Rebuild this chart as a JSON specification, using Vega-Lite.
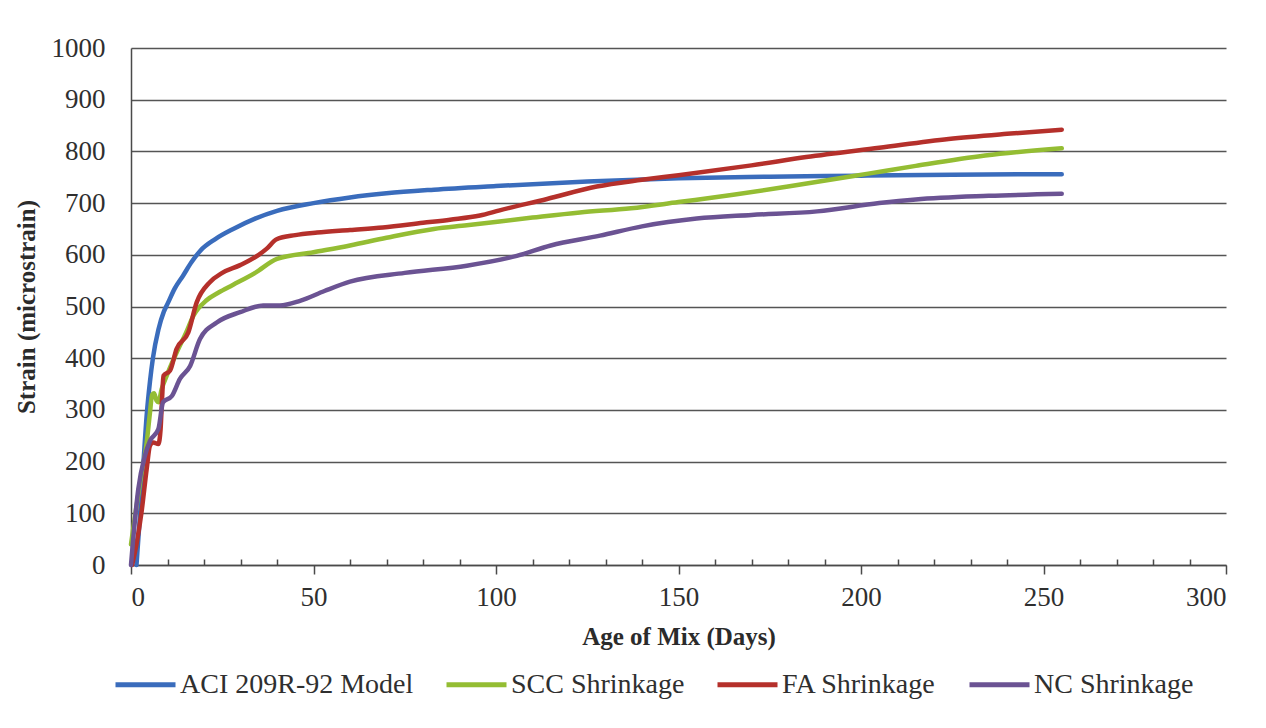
{
  "$schema": "https://vega.github.io/schema/vega-lite/v6.json",
  "autosize": {"type": "none"},
  "padding": {"left": 131, "top": 48, "right": 40, "bottom": 163},
  "width": 1095,
  "height": 517,
  "background": "white",
  "config": {
    "view": {"stroke": null},
    "font": "Liberation Serif, Times New Roman, DejaVu Serif, serif"
  },
  "data": {
    "values": [
      {"series": "ACI 209R-92 Model", "day": 1.5, "strain": 0},
      {"series": "ACI 209R-92 Model", "day": 2, "strain": 50},
      {"series": "ACI 209R-92 Model", "day": 2.5, "strain": 100},
      {"series": "ACI 209R-92 Model", "day": 3, "strain": 155},
      {"series": "ACI 209R-92 Model", "day": 3.4, "strain": 197},
      {"series": "ACI 209R-92 Model", "day": 4.3, "strain": 290},
      {"series": "ACI 209R-92 Model", "day": 5.2, "strain": 355},
      {"series": "ACI 209R-92 Model", "day": 6, "strain": 400},
      {"series": "ACI 209R-92 Model", "day": 7.5, "strain": 455},
      {"series": "ACI 209R-92 Model", "day": 9, "strain": 490},
      {"series": "ACI 209R-92 Model", "day": 10, "strain": 505},
      {"series": "ACI 209R-92 Model", "day": 12, "strain": 535},
      {"series": "ACI 209R-92 Model", "day": 14.3, "strain": 560},
      {"series": "ACI 209R-92 Model", "day": 16.5, "strain": 585},
      {"series": "ACI 209R-92 Model", "day": 19, "strain": 608},
      {"series": "ACI 209R-92 Model", "day": 23, "strain": 630},
      {"series": "ACI 209R-92 Model", "day": 28, "strain": 650},
      {"series": "ACI 209R-92 Model", "day": 34, "strain": 670},
      {"series": "ACI 209R-92 Model", "day": 40, "strain": 685},
      {"series": "ACI 209R-92 Model", "day": 50, "strain": 700},
      {"series": "ACI 209R-92 Model", "day": 60, "strain": 711},
      {"series": "ACI 209R-92 Model", "day": 70, "strain": 719},
      {"series": "ACI 209R-92 Model", "day": 83, "strain": 726},
      {"series": "ACI 209R-92 Model", "day": 100, "strain": 733},
      {"series": "ACI 209R-92 Model", "day": 125, "strain": 742},
      {"series": "ACI 209R-92 Model", "day": 150, "strain": 748},
      {"series": "ACI 209R-92 Model", "day": 175, "strain": 751},
      {"series": "ACI 209R-92 Model", "day": 200, "strain": 753},
      {"series": "ACI 209R-92 Model", "day": 225, "strain": 755},
      {"series": "ACI 209R-92 Model", "day": 255, "strain": 756},

      {"series": "SCC Shrinkage", "day": 0, "strain": 40},
      {"series": "SCC Shrinkage", "day": 1, "strain": 90},
      {"series": "SCC Shrinkage", "day": 2.5, "strain": 160},
      {"series": "SCC Shrinkage", "day": 4.3, "strain": 237},
      {"series": "SCC Shrinkage", "day": 5.2, "strain": 295},
      {"series": "SCC Shrinkage", "day": 5.8, "strain": 330},
      {"series": "SCC Shrinkage", "day": 6.3, "strain": 332},
      {"series": "SCC Shrinkage", "day": 7, "strain": 318},
      {"series": "SCC Shrinkage", "day": 7.5, "strain": 315},
      {"series": "SCC Shrinkage", "day": 8.4, "strain": 340},
      {"series": "SCC Shrinkage", "day": 10, "strain": 370},
      {"series": "SCC Shrinkage", "day": 12.5, "strain": 411},
      {"series": "SCC Shrinkage", "day": 15, "strain": 448},
      {"series": "SCC Shrinkage", "day": 17.1, "strain": 482},
      {"series": "SCC Shrinkage", "day": 20.7, "strain": 512},
      {"series": "SCC Shrinkage", "day": 24, "strain": 527},
      {"series": "SCC Shrinkage", "day": 28, "strain": 542},
      {"series": "SCC Shrinkage", "day": 34, "strain": 565},
      {"series": "SCC Shrinkage", "day": 40, "strain": 592},
      {"series": "SCC Shrinkage", "day": 50, "strain": 605},
      {"series": "SCC Shrinkage", "day": 60, "strain": 618},
      {"series": "SCC Shrinkage", "day": 70, "strain": 633},
      {"series": "SCC Shrinkage", "day": 83, "strain": 650},
      {"series": "SCC Shrinkage", "day": 92, "strain": 657},
      {"series": "SCC Shrinkage", "day": 110, "strain": 672},
      {"series": "SCC Shrinkage", "day": 123, "strain": 682},
      {"series": "SCC Shrinkage", "day": 137, "strain": 690},
      {"series": "SCC Shrinkage", "day": 150, "strain": 702},
      {"series": "SCC Shrinkage", "day": 165, "strain": 716},
      {"series": "SCC Shrinkage", "day": 180, "strain": 732},
      {"series": "SCC Shrinkage", "day": 202, "strain": 757},
      {"series": "SCC Shrinkage", "day": 215, "strain": 772},
      {"series": "SCC Shrinkage", "day": 234, "strain": 792},
      {"series": "SCC Shrinkage", "day": 255, "strain": 806},

      {"series": "FA Shrinkage", "day": 0.3, "strain": 0},
      {"series": "FA Shrinkage", "day": 1.5, "strain": 40},
      {"series": "FA Shrinkage", "day": 2.9, "strain": 103},
      {"series": "FA Shrinkage", "day": 4.3, "strain": 186},
      {"series": "FA Shrinkage", "day": 5.2, "strain": 231},
      {"series": "FA Shrinkage", "day": 6.1, "strain": 237},
      {"series": "FA Shrinkage", "day": 7.5, "strain": 234},
      {"series": "FA Shrinkage", "day": 8.1, "strain": 262},
      {"series": "FA Shrinkage", "day": 8.5, "strain": 320},
      {"series": "FA Shrinkage", "day": 8.9, "strain": 366},
      {"series": "FA Shrinkage", "day": 10.7, "strain": 376},
      {"series": "FA Shrinkage", "day": 12.5, "strain": 418},
      {"series": "FA Shrinkage", "day": 15.7, "strain": 450},
      {"series": "FA Shrinkage", "day": 18, "strain": 508},
      {"series": "FA Shrinkage", "day": 21.6, "strain": 547},
      {"series": "FA Shrinkage", "day": 25, "strain": 565},
      {"series": "FA Shrinkage", "day": 29.9, "strain": 580},
      {"series": "FA Shrinkage", "day": 35, "strain": 600},
      {"series": "FA Shrinkage", "day": 37.2, "strain": 612},
      {"series": "FA Shrinkage", "day": 39.9, "strain": 630},
      {"series": "FA Shrinkage", "day": 45, "strain": 638},
      {"series": "FA Shrinkage", "day": 51, "strain": 643},
      {"series": "FA Shrinkage", "day": 60, "strain": 648},
      {"series": "FA Shrinkage", "day": 69, "strain": 653},
      {"series": "FA Shrinkage", "day": 80, "strain": 662},
      {"series": "FA Shrinkage", "day": 87.4, "strain": 668},
      {"series": "FA Shrinkage", "day": 95.6, "strain": 676},
      {"series": "FA Shrinkage", "day": 101, "strain": 686},
      {"series": "FA Shrinkage", "day": 114, "strain": 708},
      {"series": "FA Shrinkage", "day": 127.6, "strain": 732},
      {"series": "FA Shrinkage", "day": 140, "strain": 745},
      {"series": "FA Shrinkage", "day": 150, "strain": 754},
      {"series": "FA Shrinkage", "day": 170, "strain": 773},
      {"series": "FA Shrinkage", "day": 185, "strain": 789},
      {"series": "FA Shrinkage", "day": 205, "strain": 807},
      {"series": "FA Shrinkage", "day": 224, "strain": 824},
      {"series": "FA Shrinkage", "day": 240, "strain": 834},
      {"series": "FA Shrinkage", "day": 255, "strain": 842},

      {"series": "NC Shrinkage", "day": 0, "strain": 0},
      {"series": "NC Shrinkage", "day": 0.6, "strain": 50},
      {"series": "NC Shrinkage", "day": 2, "strain": 147},
      {"series": "NC Shrinkage", "day": 3.8, "strain": 211},
      {"series": "NC Shrinkage", "day": 5.2, "strain": 240},
      {"series": "NC Shrinkage", "day": 7.5, "strain": 263},
      {"series": "NC Shrinkage", "day": 8.8, "strain": 315},
      {"series": "NC Shrinkage", "day": 11.2, "strain": 327},
      {"series": "NC Shrinkage", "day": 13.4, "strain": 360},
      {"series": "NC Shrinkage", "day": 16.2, "strain": 385},
      {"series": "NC Shrinkage", "day": 18.9, "strain": 437},
      {"series": "NC Shrinkage", "day": 23.5, "strain": 469},
      {"series": "NC Shrinkage", "day": 29.9, "strain": 489},
      {"series": "NC Shrinkage", "day": 36.2, "strain": 502},
      {"series": "NC Shrinkage", "day": 40.8, "strain": 502},
      {"series": "NC Shrinkage", "day": 46.3, "strain": 511},
      {"series": "NC Shrinkage", "day": 53, "strain": 530},
      {"series": "NC Shrinkage", "day": 60, "strain": 548},
      {"series": "NC Shrinkage", "day": 75, "strain": 565},
      {"series": "NC Shrinkage", "day": 92, "strain": 579},
      {"series": "NC Shrinkage", "day": 105.7, "strain": 598},
      {"series": "NC Shrinkage", "day": 115, "strain": 618},
      {"series": "NC Shrinkage", "day": 128.5, "strain": 637},
      {"series": "NC Shrinkage", "day": 140, "strain": 655},
      {"series": "NC Shrinkage", "day": 155, "strain": 670},
      {"series": "NC Shrinkage", "day": 170, "strain": 677},
      {"series": "NC Shrinkage", "day": 188, "strain": 684},
      {"series": "NC Shrinkage", "day": 205, "strain": 700},
      {"series": "NC Shrinkage", "day": 215, "strain": 707},
      {"series": "NC Shrinkage", "day": 235, "strain": 714},
      {"series": "NC Shrinkage", "day": 255, "strain": 718}
    ]
  },
  "mark": {"type": "line", "strokeWidth": 4.5, "interpolate": "monotone", "strokeCap": "round", "strokeJoin": "round"},
  "encoding": {
    "x": {
      "field": "day", "type": "quantitative",
      "scale": {"domain": [0, 300], "nice": false},
      "axis": {
        "title": "Age of Mix (Days)",
        "titleFont": "Liberation Serif, Times New Roman, DejaVu Serif, serif", "titleFontSize": 25, "titleFontWeight": "bold", "titleColor": "#2b2b2b",
        "titlePadding": 14,
        "values": [0,10,20,30,40,50,60,70,80,90,100,110,120,130,140,150,160,170,180,190,200,210,220,230,240,250,260,270,280,290,300],
        "labelExpr": "datum.value % 50 === 0 ? datum.label : ''",
        "labelFont": "Liberation Serif, Times New Roman, DejaVu Serif, serif", "labelFontSize": 27, "labelColor": "#2f2f2f",
        "labelPadding": 10,
        "labelOverlap": false,
        "grid": false,
        "domainColor": "#4a4a4a", "domainWidth": 1.5,
        "tickColor": "#4a4a4a", "tickWidth": 1.5,
        "tickSize": {"expr": "datum.value % 50 === 0 ? 9 : -6"}
      }
    },
    "y": {
      "field": "strain", "type": "quantitative",
      "scale": {"domain": [0, 1000], "nice": false},
      "axis": {
        "title": "Strain (microstrain)",
        "titleFont": "Liberation Serif, Times New Roman, DejaVu Serif, serif", "titleFontSize": 25, "titleFontWeight": "bold", "titleColor": "#2b2b2b",
        "titlePadding": 12,
        "values": [0,100,200,300,400,500,600,700,800,900,1000],
        "format": "d",
        "labelFont": "Liberation Serif, Times New Roman, DejaVu Serif, serif", "labelFontSize": 27, "labelColor": "#2f2f2f",
        "labelPadding": 26,
        "ticks": false,
        "grid": true, "gridColor": "#555555", "gridWidth": 1.4,
        "domainColor": "#4a4a4a", "domainWidth": 1.5
      }
    },
    "color": {
      "field": "series", "type": "nominal",
      "scale": {
        "domain": ["ACI 209R-92 Model", "SCC Shrinkage", "FA Shrinkage", "NC Shrinkage"],
        "range": ["#3a6cbc", "#94bd33", "#b5302b", "#6b5393"]
      },
      "legend": {
        "title": null,
        "orient": "none",
        "legendX": -18,
        "legendY": 604,
        "direction": "horizontal",
        "symbolType": "stroke",
        "symbolSize": 3600,
        "symbolStrokeWidth": 5,
        "labelFont": "Liberation Serif, Times New Roman, DejaVu Serif, serif", "labelFontSize": 28, "labelColor": "#2f2f2f",
        "labelOffset": 2,
        "labelLimit": 400,
        "columnPadding": 22
      }
    }
  }
}
